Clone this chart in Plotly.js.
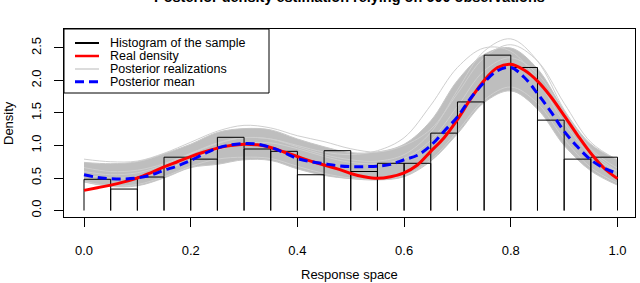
<!DOCTYPE html>
<html>
<head>
<meta charset="utf-8">
<script src="https://cdn.plot.ly/plotly-3.0.1.min.js"></script>
<style>html,body{margin:0;padding:0;background:#fff}#chart{width:640px;height:283px}</style>
</head>
<body>
<div id="chart"></div>
<script>
// ---- data ----
const binEdges = [0,0.05,0.1,0.15,0.2,0.25,0.3,0.35,0.4,0.45,0.5,0.55,0.6,0.65,0.7,0.75,0.8,0.85,0.9,0.95,1.0];
const histDensity = [0.48,0.33,0.515,0.82,0.79,1.126,0.946,0.91,0.55,0.92,0.60,0.726,0.726,1.19,1.67,2.39,2.20,1.39,0.79,0.82];

const xFine = [0,0.025,0.05,0.075,0.1,0.125,0.15,0.175,0.2,0.225,0.25,0.275,0.3,0.325,0.35,0.375,0.4,0.425,0.45,0.475,0.5,0.525,0.55,0.575,0.6,0.625,0.65,0.675,0.7,0.725,0.75,0.775,0.8,0.825,0.85,0.875,0.9,0.925,0.95,0.975,1.0];
const realDensity = [0.31,0.35,0.39,0.44,0.50,0.58,0.67,0.75,0.83,0.90,0.96,1.00,1.02,1.01,0.97,0.90,0.83,0.76,0.70,0.64,0.57,0.52,0.495,0.52,0.58,0.70,0.91,1.12,1.40,1.72,2.00,2.20,2.25,2.16,1.99,1.75,1.46,1.16,0.88,0.65,0.49];
const posteriorMean = [0.55,0.51,0.49,0.485,0.50,0.545,0.62,0.685,0.77,0.87,0.96,1.01,1.03,1.02,0.97,0.89,0.80,0.75,0.72,0.69,0.675,0.675,0.68,0.71,0.78,0.85,1.00,1.22,1.44,1.73,1.97,2.15,2.20,2.05,1.80,1.52,1.22,0.98,0.78,0.65,0.57];

const xCoarse = [0,0.05,0.1,0.15,0.2,0.25,0.3,0.35,0.4,0.45,0.5,0.55,0.6,0.65,0.7,0.75,0.8,0.85,0.9,0.95,1.0];
const bandUpper = [0.74,0.72,0.75,0.87,1.02,1.20,1.26,1.24,1.10,0.98,0.89,0.90,1.02,1.38,2.00,2.40,2.50,2.18,1.54,1.02,0.78];
const bandLower = [0.44,0.37,0.38,0.50,0.66,0.71,0.78,0.77,0.64,0.54,0.49,0.47,0.52,0.76,1.18,1.66,1.84,1.56,1.00,0.61,0.39];
const realizA = [0.79,0.75,0.76,0.88,1.05,1.22,1.31,1.27,1.15,1.06,0.95,0.90,1.00,1.25,1.80,2.35,2.55,2.30,1.65,1.05,0.78];
const realizB = [0.66,0.60,0.62,0.72,0.88,1.04,1.12,1.10,1.00,0.90,0.86,0.92,1.12,1.62,2.20,2.50,2.45,2.00,1.35,0.85,0.60];
const realizC = [0.60,0.55,0.58,0.70,0.87,1.03,1.12,1.10,0.98,0.86,0.78,0.76,0.86,1.20,1.85,2.45,2.64,2.30,1.55,0.95,0.65];
const realizD = [0.45,0.38,0.40,0.52,0.68,0.79,0.82,0.80,0.68,0.57,0.50,0.48,0.54,0.78,1.22,1.70,1.90,1.65,1.10,0.66,0.42];
const realizE = [0.55,0.50,0.52,0.62,0.78,0.93,1.03,1.04,0.95,0.83,0.74,0.72,0.80,1.08,1.60,2.15,2.35,2.10,1.50,0.92,0.60];

const xTicks = [0,0.2,0.4,0.6,0.8,1.0];
const xTickText = ['0.0','0.2','0.4','0.6','0.8','1.0'];
const yTicks = [0,0.5,1,1.5,2,2.5];
const yTickText = ['0.0','0.5','1.0','1.5','2.0','2.5'];
const legendLabels = ['Histogram of the sample','Real density','Posterior realizations','Posterior mean'];
const titleText = 'Posterior density estimation relying on 600 observations';

// ---- build histogram outline from bins ----
const hx = [], hy = [];
for (let i = 0; i < histDensity.length; i++) {
  hx.push(binEdges[i], binEdges[i], binEdges[i+1], binEdges[i+1], null);
  hy.push(0, histDensity[i], histDensity[i], 0, null);
}

const grayDense = '#bebebe';
const grayLight = '#cfcfcf';
const traces = [
  {x: xCoarse, y: bandLower, mode:'lines', line:{color:'#c6c6c6', width:1, shape:'spline'}, hoverinfo:'skip'},
  {x: xCoarse, y: bandUpper, mode:'lines', fill:'tonexty', fillcolor: grayDense, line:{color:'#c6c6c6', width:1, shape:'spline'}, hoverinfo:'skip'},
];
[realizA, realizB, realizC, realizD, realizE].forEach(r => {
  traces.push({x: xCoarse, y: r, mode:'lines', line:{color:grayLight, width:1, shape:'spline'}, hoverinfo:'skip'});
});
traces.push({x: hx, y: hy, mode:'lines', line:{color:'#000', width:1}, connectgaps:false, hoverinfo:'skip'});
traces.push({x: xFine, y: realDensity, mode:'lines', line:{color:'#ff0000', width:3, shape:'spline'}});
traces.push({x: xFine, y: posteriorMean, mode:'lines', line:{color:'#0000ff', width:3, dash:'9px,5px', shape:'spline'}});

// legend geometry (paper coords of a 571x188 plot area starting at 64,29)
const L = 64, T = 29, W = 571, H = 188;
const px = v => (v - L) / W;
const py = v => (T + H - v) / H;
const rowY = [43, 56, 69, 81.7];
const legendStyles = [
  {color:'#000', width:2},
  {color:'#ff0000', width:2.5},
  {color:'#d0d0d0', width:1.5},
  {color:'#0000ff', width:3, dash:'9px,5px'}
];
const shapes = [
  {type:'rect', xref:'paper', yref:'paper', x0:px(64), x1:px(269), y0:py(93), y1:1, line:{color:'#000', width:1}, fillcolor:'#fff', layer:'above'}
];
rowY.forEach((y, i) => {
  shapes.push({type:'line', xref:'paper', yref:'paper', x0:px(75), x1:px(99), y0:py(y), y1:py(y), line:legendStyles[i], layer:'above'});
});
const font = 'Liberation Sans, Arial, sans-serif';
const annotations = legendLabels.map((t, i) => ({
  text: t, xref:'paper', yref:'paper', x: px(108), y: py(rowY[i]), xanchor:'left', yanchor:'middle',
  showarrow:false, font:{family:font, size:12.5, color:'#000'}
}));
annotations.push({text: titleText, xref:'paper', yref:'paper', x:0.5, y: py(-3), xanchor:'center', yanchor:'middle', showarrow:false, font:{family:font, size:14.5, color:'#000', weight:'bold'}});
annotations.push({text:'Response space', xref:'paper', yref:'paper', x:0.5, y: py(274), xanchor:'center', yanchor:'middle', showarrow:false, font:{family:font, size:13, color:'#000'}});
annotations.push({text:'Density', xref:'paper', yref:'paper', x: px(8), y: 0.5, xanchor:'center', yanchor:'middle', textangle:-90, showarrow:false, font:{family:font, size:13, color:'#000'}});

const layout = {
  width: 640, height: 283,
  margin: {l: 64, r: 5, t: 29, b: 66, pad: 0},
  paper_bgcolor:'#fff', plot_bgcolor:'#fff',
  showlegend: false,
  xaxis: {range:[-0.0375, 1.0328], tickvals:xTicks, ticktext:xTickText, ticks:'outside', ticklen:9, tickcolor:'#000', tickwidth:1,
          showgrid:false, zeroline:false, showline:true, mirror:true, linecolor:'#000', linewidth:1,
          tickfont:{family:font, size:13, color:'#000'}, ticklabelstandoff:12},
  yaxis: {range:[-0.1, 2.792], tickvals:yTicks, ticktext:yTickText, ticks:'outside', ticklen:9, tickcolor:'#000', tickwidth:1,
          showgrid:false, zeroline:false, showline:true, mirror:true, linecolor:'#000', linewidth:1, tickangle:-90,
          tickfont:{family:font, size:13, color:'#000'}, ticklabelstandoff:8},
  shapes, annotations
};
Plotly.newPlot('chart', traces, layout, {staticPlot:true, displayModeBar:false});
</script>
</body>
</html>
